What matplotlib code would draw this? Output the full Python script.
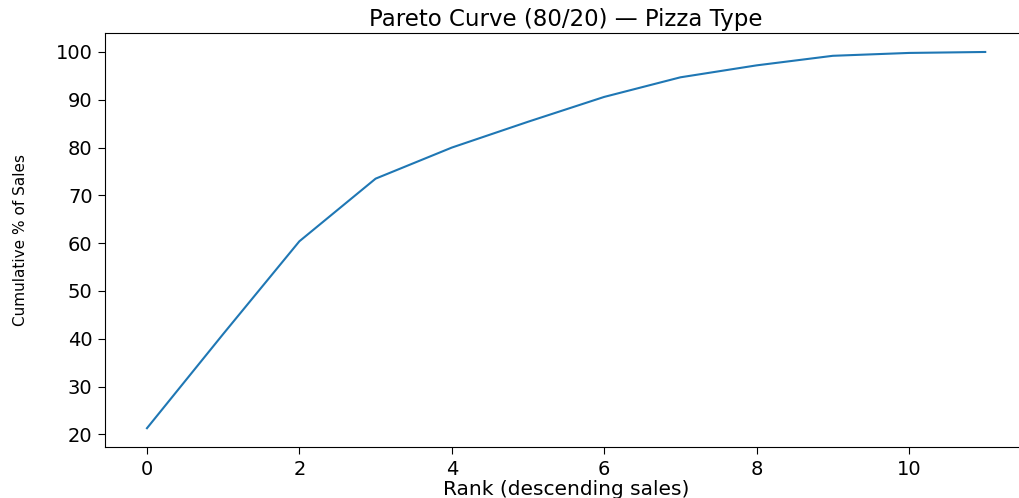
import matplotlib
matplotlib.use("Agg")
import matplotlib.pyplot as plt

ranks = list(range(12))
cum_pct = [21.3, 41.0, 60.4, 73.5, 80.0, 85.4, 90.6, 94.7, 97.2, 99.2, 99.8, 100.0]

plt.rcParams['font.family'] = ['DejaVu Sans']
fig = plt.figure(figsize=(10.2, 4.98), dpi=100)
ax = fig.add_axes([0.103, 0.1024, 0.904, 0.831])
ax.plot(ranks, cum_pct, color='#1f77b4', linewidth=1.5)
ax.set_xticks([0, 2, 4, 6, 8, 10])
ax.set_yticks([20, 30, 40, 50, 60, 70, 80, 90, 100])
ax.tick_params(labelsize=14, length=5, pad=4)
for lab in ax.get_yticklabels():
    lab.set_fontsize(14)
ax.set_title("Pareto Curve (80/20) — Pizza Type", fontsize=16.5, pad=5)
ax.set_xlabel("Rank (descending sales)", fontsize=14.5, labelpad=1)
ax.set_ylabel("Cumulative % of Sales", fontsize=11, labelpad=20)
fig.savefig("out.png", dpi=100)
